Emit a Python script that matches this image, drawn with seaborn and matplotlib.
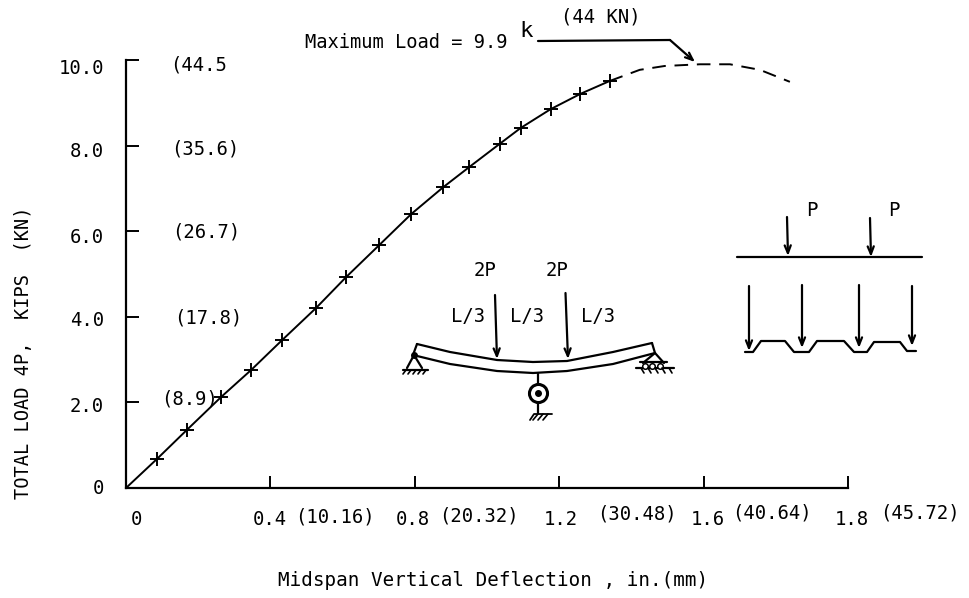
import matplotlib
matplotlib.use("Agg")
import matplotlib.pyplot as plt
import pandas as pd
import seaborn as sns
from matplotlib.transforms import ScaledTranslation

# test points
deflection = [0.086, 0.169, 0.264, 0.347, 0.433, 0.527, 0.61, 0.702, 0.79, 0.879, 0.951, 1.035, 1.093, 1.176, 1.259, 1.34]
load = [0.68, 1.36, 2.13, 2.76, 3.46, 4.21, 4.93, 5.68, 6.4, 7.03, 7.5, 8.04, 8.41, 8.85, 9.21, 9.51]

# extrapolated part, dashed
dash_deflection = [1.34, 1.423, 1.492, 1.59, 1.673, 1.756, 1.839]
dash_load = [9.51, 9.77, 9.86, 9.9, 9.9, 9.77, 9.49]

x_ticks = [0, 0.4, 0.8, 1.2, 1.6, 2.0]
x_labels = ["0", "0.4", "0.8", "1.2", "1.6", "1.8"]   # last tick really is labelled 1.8 in the original
y_ticks = [0, 2, 4, 6, 8, 10]
y_labels = ["0", "2.0", "4.0", "6.0", "8.0", "10.0"]
kn_labels = ["(8.9)", "(17.8)", "(26.7)", "(35.6)", "(44.5"]
mm_labels = ["(10.16)", "(20.32)", "(30.48)", "(40.64)", "(45.72)"]

sns.set_style("ticks")
plt.rcParams["font.family"] = ["DejaVu Sans Mono"]
FS = 13.6

W, H = 969, 598
fig = plt.figure(figsize=(W / 100, H / 100), dpi=100)
ax = fig.add_axes([126 / W, 1 - 488 / H, 722 / W, 428 / H])

solid = pd.DataFrame({"x": [0] + deflection, "y": [0] + load})
dashed = pd.DataFrame({"x": dash_deflection, "y": dash_load})
points = pd.DataFrame({"x": deflection, "y": load})
sns.lineplot(data=solid, x="x", y="y", color="black", lw=1.4, ax=ax)
sns.lineplot(data=dashed, x="x", y="y", color="black", lw=1.4, ax=ax, linestyle=(0, (7, 4.5)))
sns.scatterplot(data=points, x="x", y="y", marker="+", s=110, color="black", linewidth=1.4, ax=ax, zorder=5)

ax.set_xlim(0, 2.0)
ax.set_ylim(0, 10)
ax.set_xticks(x_ticks, x_labels, fontsize=FS)
ax.set_yticks(y_ticks, y_labels, fontsize=FS)
ax.tick_params(axis="x", direction="in", length=9, width=1.4, pad=16, colors="black")
ax.tick_params(axis="y", direction="in", length=9, width=1.4, pad=16, colors="black")

# nudge tick labels where the original typing sits off the tick
for lab, dx in zip(ax.get_xticklabels(), [10, -1, -2, 2, 4, 4]):
    lab.set_transform(lab.get_transform() + ScaledTranslation(dx / 100, 0, fig.dpi_scale_trans))
for lab, dy in zip(ax.get_yticklabels(), [2, -2, -2, -4, -4, -6]):
    lab.set_transform(lab.get_transform() + ScaledTranslation(0, dy / 100, fig.dpi_scale_trans))

ax.set_xlabel("Midspan Vertical Deflection , in.(mm)", fontsize=FS + 0.3, labelpad=30, color="black", x=0.508)
ax.set_ylabel("TOTAL LOAD 4P,  KIPS  (KN)", fontsize=13.4, labelpad=18, color="black", y=0.315)
ax.patch.set_alpha(0)
for side in ["top", "right"]:
    ax.spines[side].set_visible(False)
for side in ["left", "bottom"]:
    ax.spines[side].set_linewidth(1.6)
    ax.spines[side].set_color("black")

# overlay in picture pixels for the labels and little sketches
ov = fig.add_axes([0, 0, 1, 1])
ov.set_xlim(0, W)
ov.set_ylim(H, 0)
ov.axis("off")


def txt(x, y, s, ha="center", size=FS):
    ov.text(x, y, s, fontsize=size, ha=ha, va="center", color="black")


def poly(pts, lw=1.6):
    ov.plot([p[0] for p in pts], [p[1] for p in pts], color="black", lw=lw, solid_capstyle="round")


def arrow(x0, y0, x1, y1):
    ov.annotate("", xy=(x1, y1), xytext=(x0, y0),
                arrowprops=dict(arrowstyle="->,head_length=0.55,head_width=0.22", lw=1.6, color="black",
                                shrinkA=0, shrinkB=0))


for s, x, y in zip(kn_labels, [190, 208, 206, 205, 170], [399, 318, 232, 149, 65]):
    txt(x, y, s, ha="center" if s != "(44.5" else "left")
for s, x, y in zip(mm_labels, [335, 479, 637, 772, 920], [517, 516, 514, 513, 513]):
    txt(x, y, s)

# max load note
txt(305, 43, "Maximum Load = 9.9", ha="left", size=13.5)
txt(526, 31, "k", size=16)
txt(601, 17, "(44 KN)")
poly([(538, 41), (670, 40)])
arrow(670, 40, 695, 62)

# beam sketch
beam_top = [(417, 344), (450, 352), (497, 360), (533, 362), (567, 361), (613, 352), (652, 343)]
beam_bottom = [(413, 355), (450, 364), (497, 371), (533, 373), (567, 371), (613, 364), (655, 353)]
poly(beam_top)
poly(beam_bottom)
poly([(417, 344), (413, 355)])
poly([(652, 343), (655, 353)])
arrow(495, 295, 497, 359)
arrow(565.5, 293, 568, 359)
txt(485, 271, "2P")
txt(557, 271, "2P")
txt(468, 317, "L/3")
txt(527, 317, "L/3")
txt(598, 317, "L/3")

# left pin
poly([(407, 368), (414, 355), (422, 368)])
poly([(403, 370), (428, 370)])
ov.plot([414], [355], "o", color="black", ms=4)
for hx in [406, 411, 416, 421, 426]:
    poly([(hx, 370), (hx - 3, 374)], lw=1.2)

# right roller
poly([(643, 363), (655, 353), (664, 363)])
poly([(640, 362), (667, 362)])
poly([(636, 368), (674, 368)])
for hx in [645, 652, 660]:
    ov.plot([hx], [365.5], "o", mfc="white", mec="black", ms=4, mew=1.1)
for hx in [641, 648, 655, 662, 669]:
    poly([(hx, 368), (hx + 3, 373)], lw=1.2)

# dial gauge
poly([(538, 373), (538, 385)])
poly([(538, 401), (538, 413)])
ov.plot([538], [393], "o", mfc="white", mec="black", ms=13, mew=2.2)
ov.plot([538], [393], "o", color="black", ms=4)
poly([(530, 420), (534, 414), (552, 414)], lw=1.3)
for hx in [538, 543, 548]:
    poly([(hx, 414), (hx - 5, 420)], lw=1.2)

# deck section sketch
poly([(737, 257), (922, 257)])
arrow(787, 217, 788, 256)
arrow(870, 218, 871, 257)
txt(812, 211, "P")
txt(894, 211, "P")
for x0, y0, y1 in [(749, 286, 351), (802, 285, 348), (859, 285, 348), (912, 286, 346)]:
    arrow(x0, y0, x0, y1)
deck = [(745, 352), (753, 352), (761, 341), (785, 341), (794, 352), (809, 352), (817, 341),
        (844, 341), (854, 352), (867, 352), (874, 342), (900, 342), (907, 351), (916, 351)]
poly(deck)

fig.savefig("out.png", dpi=100, facecolor="white")
